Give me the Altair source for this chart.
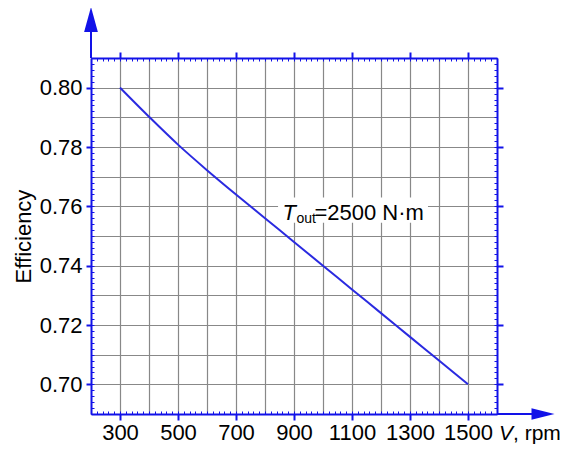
import altair as alt
import pandas as pd

# ---- data ----
speed_rpm = [300, 400, 500, 600, 700, 800, 900, 1000, 1100, 1200, 1300, 1400, 1500]
efficiency = [0.800, 0.7902, 0.7808, 0.7722, 0.7640, 0.7560, 0.7480, 0.7400, 0.7320, 0.7240, 0.7160, 0.7080, 0.700]

x_major = [300, 500, 700, 900, 1100, 1300, 1500]
x_grid = [300, 400, 500, 600, 700, 800, 900, 1000, 1100, 1200, 1300, 1400, 1500]
y_major = [0.70, 0.72, 0.74, 0.76, 0.78, 0.80]
y_grid = [0.70, 0.71, 0.72, 0.73, 0.74, 0.75, 0.76, 0.77, 0.78, 0.79, 0.80]
x_minor = list(range(200, 1601, 20))
y_minor = [round(0.69 + 0.002 * i, 3) for i in range(61)]

annotation_x = [860]
annotation_y = [0.7555]
box_x = [845]
box_x2 = [1362]
box_y = [0.7545]
box_y2 = [0.7630]

BLUE = "#1212e8"
LINE = "#2a2ae0"
GRID = "#888888"
FONT = "Liberation Sans"
W, H = 406, 356

df = pd.DataFrame({"V": speed_rpm, "eff": efficiency})
one = pd.DataFrame({"k": [0]})

xs = alt.Scale(domain=[200, 1600], nice=False, zero=False)
ys = alt.Scale(domain=[0.69, 0.81], nice=False, zero=False)

base = alt.Chart(df)

grid = base.mark_line(opacity=0).encode(
    x=alt.X("V:Q", scale=xs, axis=alt.Axis(orient="bottom", values=x_grid, grid=True, gridColor=GRID,
                                            gridWidth=1.2, gridOpacity=1, labels=False, ticks=False,
                                            domain=False, title="")),
    y=alt.Y("eff:Q", scale=ys, axis=alt.Axis(orient="left", values=y_grid, grid=True, gridColor=GRID,
                                              gridWidth=1.2, gridOpacity=1, labels=False, ticks=False,
                                              domain=False, title="")),
)

minor1 = base.mark_line(opacity=0).encode(
    x=alt.X("V:Q", scale=xs, axis=alt.Axis(orient="bottom", values=x_minor, grid=False, labels=False,
                                            ticks=True, tickSize=3, tickWidth=1, tickColor=BLUE,
                                            domain=False, offset=-3, title="")),
    y=alt.Y("eff:Q", scale=ys, axis=alt.Axis(orient="left", values=y_minor, grid=False, labels=False,
                                              ticks=True, tickSize=3, tickWidth=1, tickColor=BLUE,
                                              domain=False, offset=-3, title="")),
)

minor2 = base.mark_line(opacity=0).encode(
    x=alt.X("V:Q", scale=xs, axis=alt.Axis(orient="top", values=x_minor, grid=False, labels=False,
                                            ticks=True, tickSize=3, tickWidth=1, tickColor=BLUE,
                                            domain=False, offset=-3, title="")),
    y=alt.Y("eff:Q", scale=ys, axis=alt.Axis(orient="right", values=y_minor, grid=False, labels=False,
                                              ticks=True, tickSize=3, tickWidth=1, tickColor=BLUE,
                                              domain=False, offset=-3, title="")),
)

frame = base.mark_line(opacity=0).encode(
    x=alt.X("V:Q", scale=xs, axis=alt.Axis(orient="top", values=x_major, grid=False, labels=False,
                                            ticks=True, tickSize=6, tickWidth=2, tickColor=BLUE,
                                            domain=True, domainColor=BLUE, domainWidth=2, title="")),
    y=alt.Y("eff:Q", scale=ys, axis=alt.Axis(orient="right", values=y_major, grid=False, labels=False,
                                              ticks=True, tickSize=6, tickWidth=2, tickColor=BLUE,
                                              domain=True, domainColor=BLUE, domainWidth=2, title="")),
)

box = alt.Chart(pd.DataFrame({"x": box_x, "x2": box_x2, "y": box_y, "y2": box_y2})).mark_rect(
    color="white", opacity=1
).encode(
    x=alt.X("x:Q", scale=xs, axis=None), x2="x2:Q",
    y=alt.Y("y:Q", scale=ys, axis=None), y2="y2:Q",
)

main = base.mark_line(color=LINE, strokeWidth=2, interpolate="monotone").encode(
    x=alt.X("V:Q", scale=xs, axis=alt.Axis(orient="bottom", values=x_major, format="d", grid=False,
                                            labels=True, labelFont=FONT, labelFontSize=22,
                                            labelColor="black", labelPadding=2, ticks=True,
                                            tickSize=6, tickWidth=2, tickColor=BLUE, domain=True,
                                            domainColor=BLUE, domainWidth=2, title="")),
    y=alt.Y("eff:Q", scale=ys, axis=alt.Axis(orient="left", values=y_major, format=".2f", grid=False,
                                              labels=True, labelFont=FONT, labelFontSize=22,
                                              labelColor="black", labelPadding=4, ticks=True,
                                              tickSize=5, tickWidth=2, tickColor=BLUE, domain=True,
                                              domainColor=BLUE, domainWidth=2, title="Efficiency",
                                              titleFont=FONT, titleFontSize=22,
                                              titleFontWeight="normal", titleColor="black",
                                              titlePadding=4)),
)

ann_df = pd.DataFrame({"x": annotation_x, "y": annotation_y})
ann_T = alt.Chart(ann_df).mark_text(text="T", font=FONT, fontSize=22, fontStyle="italic",
                                    align="left", baseline="alphabetic", color="black").encode(
    x=alt.X("x:Q", scale=xs, axis=None), y=alt.Y("y:Q", scale=ys, axis=None))
ann_sub = alt.Chart(ann_df).mark_text(text="out", font=FONT, fontSize=14, align="left",
                                      baseline="alphabetic", dx=14, dy=3, color="black").encode(
    x=alt.X("x:Q", scale=xs, axis=None), y=alt.Y("y:Q", scale=ys, axis=None))
ann_rest = alt.Chart(ann_df).mark_text(text="=2500 N·m", font=FONT, fontSize=22, align="left",
                                       baseline="alphabetic", dx=32, color="black").encode(
    x=alt.X("x:Q", scale=xs, axis=None), y=alt.Y("y:Q", scale=ys, axis=None))

# axis arrows
y_arrow_line = alt.Chart(one).mark_rule(color=BLUE, strokeWidth=2).encode(
    x=alt.value(0), y=alt.value(0), y2=alt.value(-40))
y_arrow_head = alt.Chart(one).mark_point(shape="M0,-1L0.55,1L-0.55,1Z", size=625, filled=True,
                                         opacity=1, color=BLUE).encode(
    x=alt.value(0), y=alt.value(-38.5))
x_arrow_line = alt.Chart(one).mark_rule(color=BLUE, strokeWidth=2).encode(
    x=alt.value(W), x2=alt.value(W + 40), y=alt.value(H))
x_arrow_head = alt.Chart(one).mark_point(shape="M1,0L-1,-0.5L-1,0.5Z", size=529, filled=True,
                                         opacity=1, color=BLUE).encode(
    x=alt.value(W + 46), y=alt.value(H))

xlab_V = alt.Chart(one).mark_text(text="V", font=FONT, fontSize=21, fontStyle="italic", align="left",
                                  baseline="middle", color="black").encode(
    x=alt.value(W + 2), y=alt.value(H + 20))
xlab_rest = alt.Chart(one).mark_text(text=", rpm", font=FONT, fontSize=21, align="left",
                                     baseline="middle", color="black").encode(
    x=alt.value(W + 16), y=alt.value(H + 20))

chart = alt.layer(
    grid, minor1, minor2, frame, box, main, ann_T, ann_sub, ann_rest,
    y_arrow_line, y_arrow_head, x_arrow_line, x_arrow_head, xlab_V, xlab_rest,
).resolve_axis(x="independent", y="independent").properties(
    width=W, height=H,
    autosize=alt.AutoSizeParams(type="none"),
    padding={"left": 83, "top": 50, "right": 66, "bottom": 34},
).configure_view(stroke=None).configure(background="white")

chart.save("out.html", embed_options={"renderer": "svg", "actions": False})
